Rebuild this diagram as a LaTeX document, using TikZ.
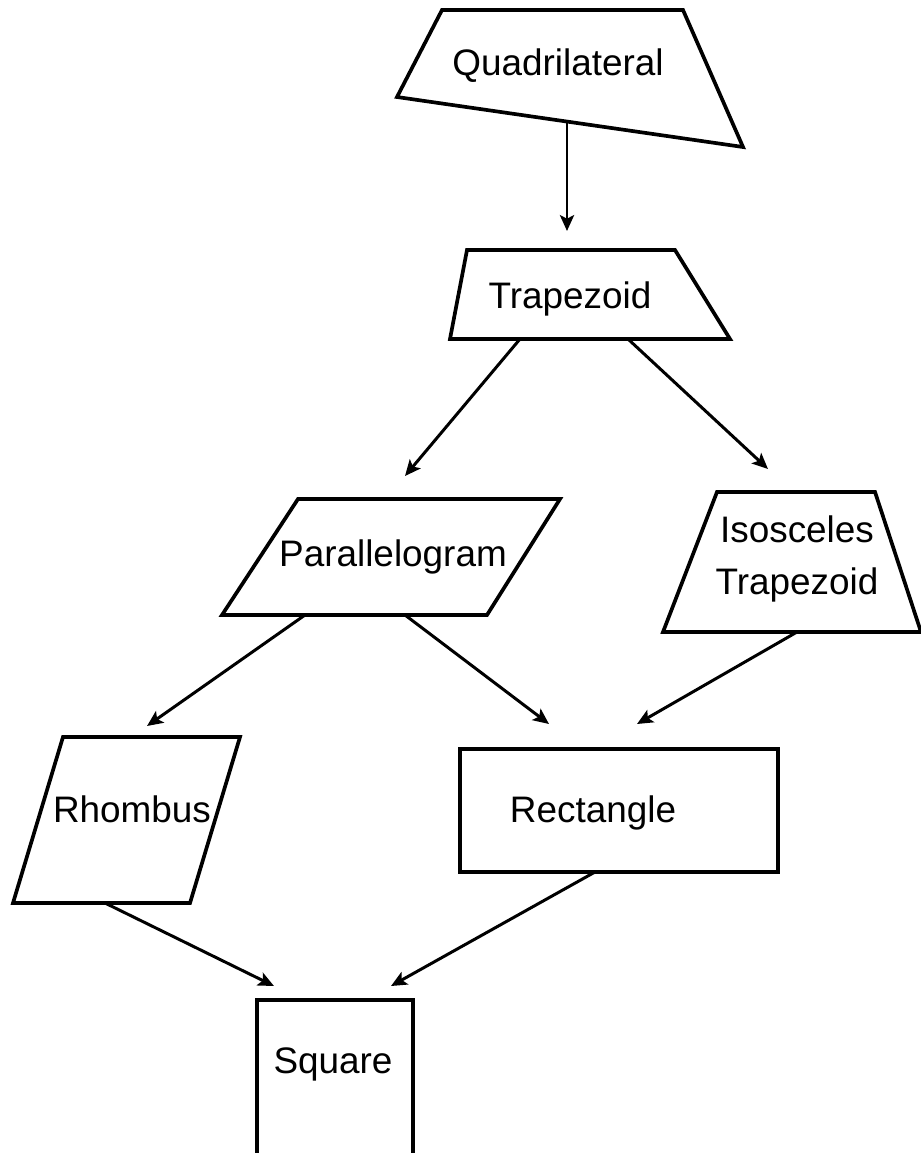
\documentclass[tikz,border=0pt]{standalone}
\usepackage{fontspec}
\setmainfont{Liberation Sans}
\usetikzlibrary{arrows.meta}
\tikzset{
	figbox/.style={draw=black, line width=2.1pt, fill=white},
	figtext/.style={font=\fontsize{21}{30}\selectfont, inner sep=0pt},
	link/.style={line width=1.7pt, -{Stealth[length=9pt, width=8pt, inset=2pt]}}
}
\begin{document}
\begin{tikzpicture}[x=0.02cm, y=-0.02cm]
		\useasboundingbox (0,0) rectangle (920,1153);
		%Quadrilateral
		\draw[figbox] (442,10) -- (683,10) -- (743,147) -- (397,97) -- cycle;
		\node[figtext, anchor=base] (quad) at (558,75) {Quadrilateral};
		%Trapezoid
		\draw[figbox] (467,250) -- (675,250) -- (730,339) -- (450,339) -- cycle;
		\node[figtext, anchor=base] (trap) at (570,308) {Trapezoid};
		%Parallelogram
		\draw[figbox] (298,499) -- (560,499) -- (487,615) -- (222,615) -- cycle;
		\node[figtext, anchor=base] (para) at (393,566) {Parallelogram};
		%Isosceles Trapezoid
		\draw[figbox] (717,492) -- (875,492) -- (921,632) -- (663,632) -- cycle;
		\node[figtext, align=center] (isotrap) at (797,559) {Isosceles\\Trapezoid};
		%Rhombus
		\draw[figbox] (63,737) -- (240,737) -- (190,903) -- (13,903) -- cycle;
		\node[figtext, anchor=base] (rhomb) at (132,822) {Rhombus};
		%Rectangle
		\draw[figbox] (460,749) rectangle (778,872);
		\node[figtext, anchor=base] (rect) at (593,822) {Rectangle};
		%Square (unten abgeschnitten)
		\draw[figbox, fill=none] (257,1160) -- (257,1000) -- (413,1000) -- (413,1160);
		\node[figtext, anchor=base] (sq) at (333,1073) {Square};
		%Pfeil-Enden
		\coordinate (quad-out) at (567,123);
		\coordinate (trap-in) at (567,231);
		\coordinate (trap-outl) at (520,339);
		\coordinate (trap-outr) at (628,339);
		\coordinate (para-in) at (405,476);
		\coordinate (isotrap-in) at (768,469);
		\coordinate (para-outl) at (305,615);
		\coordinate (para-outr) at (405,615);
		\coordinate (isotrap-out) at (797,632);
		\coordinate (rhomb-in) at (147,726);
		\coordinate (rect-inl) at (549,724);
		\coordinate (rect-inr) at (637,724);
		\coordinate (rhomb-out) at (105,903);
		\coordinate (rect-out) at (595,872);
		\coordinate (sq-inl) at (274,986);
		\coordinate (sq-inr) at (391,986);
		%Pfeile
		\draw[link] (quad-out) -- (trap-in);
		\draw[link] (trap-outl) -- (para-in);
		\draw[link] (trap-outr) -- (isotrap-in);
		\draw[link] (para-outl) -- (rhomb-in);
		\draw[link] (para-outr) -- (rect-inl);
		\draw[link] (isotrap-out) -- (rect-inr);
		\draw[link] (rhomb-out) -- (sq-inl);
		\draw[link] (rect-out) -- (sq-inr);
\end{tikzpicture}
\end{document}
